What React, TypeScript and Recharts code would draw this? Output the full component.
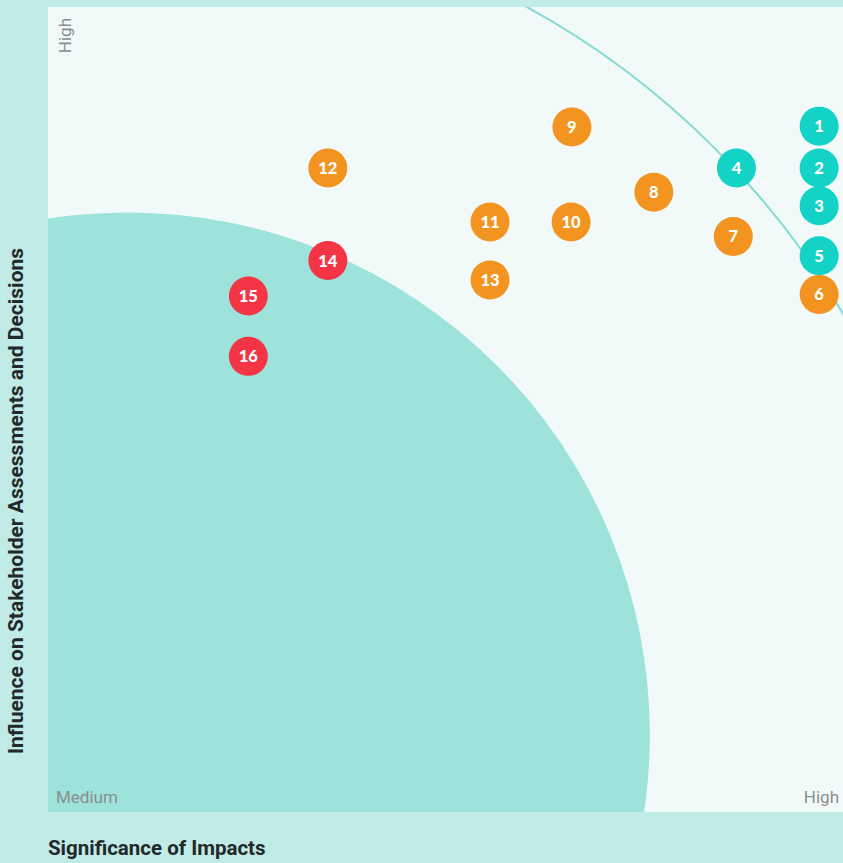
import React from "react";
import { ScatterChart, Scatter, XAxis, YAxis, ReferenceArea } from "recharts";

// ---- Data ----
const topicIds = [1, 2, 3, 4, 5, 6, 7, 8, 9, 10, 11, 12, 13, 14, 15, 16];
const significance = [9.7, 9.7, 9.7, 8.66, 9.7, 9.7, 8.62, 7.62, 6.59, 6.58, 5.56, 3.52, 5.56, 3.52, 2.52, 2.52];
const influence = [8.52, 8.0, 7.53, 8.0, 6.91, 6.43, 7.15, 7.7, 8.51, 7.33, 7.33, 8.0, 6.61, 6.85, 6.41, 5.66];
const priority = ["high", "high", "high", "high", "high", "mid", "mid", "mid", "mid", "mid", "mid", "mid", "mid", "low", "low", "low"];

const zoneCenterX = [1.0, 1.0];
const zoneCenterY = [0.96, 0.96];
const zoneRadius = [10.44, 6.57];
const zoneKind = ["ring", "fill"];

const axisLabels = { xLow: "Medium", xHigh: "High", yHigh: "High" };
const xTitle = "Significance of Impacts";
const yTitle = "Influence on Stakeholder Assessments and Decisions";

// ---- Layout / styles ----
const W = 843;
const H = 863;
const M = { top: 7, right: 0, bottom: 51, left: 48 };
const PLOT_W = W - M.left - M.right;
const PLOT_H = H - M.top - M.bottom;
const X_DOMAIN: [number, number] = [0, 10];
const Y_DOMAIN: [number, number] = [0, 10];
const PX_PER_UNIT = PLOT_W / (X_DOMAIN[1] - X_DOMAIN[0]);

const COLORS: Record<string, string> = { high: "#12d3c5", mid: "#f39420", low: "#f43545" };

const points = topicIds.map((id, i) => ({
  id,
  x: significance[i],
  y: influence[i],
  level: priority[i],
}));

const zones = zoneKind.map((k, i) => ({ x: zoneCenterX[i], y: zoneCenterY[i], r: zoneRadius[i], kind: k }));

// anchor at the bottom-left corner of the plot, used to place the frame texts
const frameAnchor = [{ x: X_DOMAIN[0], y: Y_DOMAIN[0] }];

const ZoneShape = (props: any) => {
  const { cx, cy, payload } = props;
  const r = payload.r * PX_PER_UNIT;
  const id = "plotClip" + payload.kind;
  return (
    <g>
      <defs>
        <clipPath id={id}>
          <rect x={M.left} y={M.top} width={PLOT_W} height={PLOT_H} />
        </clipPath>
      </defs>
      {payload.kind === "fill" ? (
        <circle cx={cx} cy={cy} r={r} fill="#9de3db" clipPath={`url(#${id})`} />
      ) : (
        <circle cx={cx} cy={cy} r={r} fill="none" stroke="#86dbd3" strokeWidth={2} clipPath={`url(#${id})`} />
      )}
    </g>
  );
};

const DotShape = (props: any) => {
  const { cx, cy, payload } = props;
  return (
    <g>
      <circle cx={cx} cy={cy} r={19.5} fill={COLORS[payload.level]} />
      <text
        x={cx}
        y={cy + 6}
        textAnchor="middle"
        fill="#ffffff"
        fontFamily="Lato, 'Open Sans', sans-serif"
        fontWeight={900}
        fontSize={16.5}
      >
        {payload.id}
      </text>
    </g>
  );
};

const FrameLabels = (props: any) => {
  const { cx, cy } = props; // bottom-left corner of plot area
  const gx = cx;
  const gy = cy - PLOT_H;
  const gw = PLOT_W;
  const gh = PLOT_H;
  const gray = "#8a8d8d";
  const font = "Roboto, 'Noto Sans', sans-serif";
  return (
    <g>
      <text x={gx + 8} y={gy + gh - 9} fill={gray} fontFamily={font} fontSize={17}>
        {axisLabels.xLow}
      </text>
      <text x={gx + gw - 4} y={gy + gh - 9} fill={gray} fontFamily={font} fontSize={17} textAnchor="end">
        {axisLabels.xHigh}
      </text>
      <text
        x={gx + 23}
        y={gy + 11}
        fill={gray}
        fontFamily={font}
        fontSize={17}
        textAnchor="end"
        transform={`rotate(-90, ${gx + 23}, ${gy + 11})`}
      >
        {axisLabels.yHigh}
      </text>
      <text x={gx} y={gy + gh + 43} fill="#22292a" fontFamily={font} fontWeight={700} fontSize={20.5}>
        {xTitle}
      </text>
      <text
        x={23}
        y={501}
        fill="#22292a"
        fontFamily={font}
        fontWeight={700}
        fontSize={21}
        textAnchor="middle"
        transform={`rotate(-90, 23, 501)`}
      >
        {yTitle}
      </text>
    </g>
  );
};

export default function App() {
  return (
    <div style={{ position: "absolute", left: 0, top: 0, width: W, height: H, background: "#c1ebe6" }}>
      <ScatterChart width={W} height={H} margin={M}>
        <XAxis type="number" dataKey="x" domain={X_DOMAIN} hide />
        <YAxis type="number" dataKey="y" domain={Y_DOMAIN} hide />
        <ReferenceArea x1={0} x2={10} y1={0} y2={10} fill="#f1faf9" fillOpacity={1} stroke="none" />
        <Scatter data={zones} shape={ZoneShape} isAnimationActive={false} />
        <Scatter data={frameAnchor} shape={FrameLabels} isAnimationActive={false} />
        <Scatter data={points} shape={DotShape} isAnimationActive={false} />
      </ScatterChart>
    </div>
  );
}
